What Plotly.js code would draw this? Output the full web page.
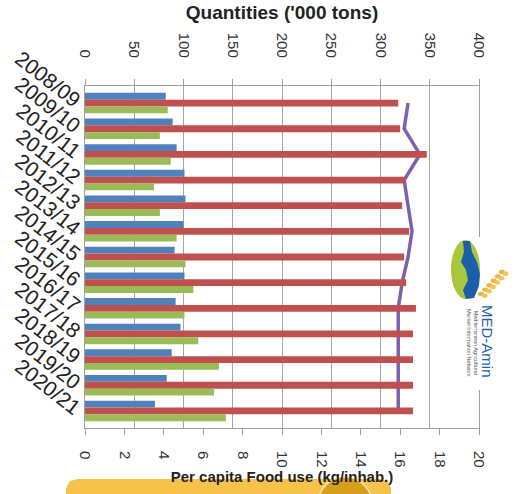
<!DOCTYPE html>
<html>
<head>
<meta charset="utf-8">
<script src="https://cdn.plot.ly/plotly-3.0.1.min.js"></script>
<style>html,body{margin:0;padding:0;background:#fff;}#chart{width:516px;height:494px;}</style>
</head>
<body>
<div id="chart"></div>
<script>
// ---- data ----
const categories = ['2008/09','2009/10','2010/11','2011/12','2012/13','2013/14','2014/15','2015/16','2016/17','2017/18','2018/19','2019/20','2020/21'];
const blueSeries  = [82, 89, 93, 101, 102, 100, 91, 101, 92, 97, 88, 83, 71];
const redSeries   = [318, 320, 347, 325, 322, 329, 324, 326, 336, 333, 333, 333, 333];
const greenSeries = [84, 76, 87, 70, 76, 93, 102, 110, 101, 115, 136, 131, 143];
const perCapita   = [16.4, 16.2, 17.0, 16.2, 16.4, 16.6, 16.4, 16.1, 15.9, 15.9, 15.9, 15.9, 15.9];

// ---- layout helpers (pixel -> paper) ----
const L = 85, R = 479, T = 86, B = 428;
const px = x => (x - L) / (R - L);
const py = y => (B - y) / (B - T);
const path = pts => 'M' + pts.map(p => px(p[0]).toFixed(4) + ',' + py(p[1]).toFixed(4)).join(' L') + ' Z';

const traces = [
  {type:'bar', orientation:'h', name:'Series 1', y:categories, x:blueSeries, xaxis:'x2', yaxis:'y', marker:{color:'#4f81bd'}},
  {type:'bar', orientation:'h', name:'Series 2', y:categories, x:redSeries, xaxis:'x2', yaxis:'y', marker:{color:'#c0504d'}},
  {type:'bar', orientation:'h', name:'Series 3', y:categories, x:greenSeries, xaxis:'x2', yaxis:'y', marker:{color:'#9bbb59'}},
  {type:'scatter', mode:'lines', name:'Per capita Food use', y:categories, x:perCapita, xaxis:'x', yaxis:'y', line:{color:'#7f5fb0', width:3.5}}
];

const wheat = [];
for (let i = 0; i < 6; i++) {
  const cx = 481 + i * 4.2, cy = 294 - i * 4.4;
  wheat.push({type:'circle', xref:'paper', yref:'paper', layer:'above', x0:px(cx-3), x1:px(cx+3), y0:py(cy+2.2), y1:py(cy-2.2), fillcolor:'#f2b43a', line:{width:0}});
  wheat.push({type:'circle', xref:'paper', yref:'paper', layer:'above', x0:px(cx+1), x1:px(cx+6.5), y0:py(cy+4), y1:py(cy-0.5), fillcolor:'#f5c45a', line:{width:0}});
}

const shapes = [
  // bottom decoration
  {type:'path', xref:'paper', yref:'paper', layer:'below', path:path([[66,500],[66,488],[70,481],[78,479],[380,479],[388,481],[391,488],[391,500]]), fillcolor:'#f6c24a', line:{width:0}},
  {type:'circle', xref:'paper', yref:'paper', layer:'below', x0:px(318), x1:px(372), y0:py(531), y1:py(477), fillcolor:'#d79e1c', line:{color:'#fbe7b0', width:1.5}},
  // logo background
  {type:'rect', xref:'paper', yref:'paper', layer:'above', x0:px(447), x1:px(514), y0:py(390), y1:py(237), fillcolor:'#ffffff', line:{width:0}},
  {type:'circle', xref:'paper', yref:'paper', layer:'above', x0:px(451), x1:px(480), y0:py(299), y1:py(240), fillcolor:'#a9c73c', line:{width:0}},
  {type:'path', xref:'paper', yref:'paper', layer:'above', path:path([[463,241],[470,241],[472,252],[477,262],[480,274],[479,286],[474,298],[466,299],[463,290],[468,280],[466,270],[461,262],[464,252]]), fillcolor:'#1d5ea8', line:{width:0}},
  ...wheat
];

const annotations = [
  {xref:'paper', yref:'paper', x:px(488), y:py(342), xanchor:'center', yanchor:'middle', text:'MED-Amin', textangle:90, showarrow:false, font:{family:'Liberation Sans', size:15, color:'#1f63b0'}},
  {xref:'paper', yref:'paper', x:px(473), y:py(343), xanchor:'center', yanchor:'middle', text:'Mediterranean Agricultural<br>Market Information Network', textangle:90, showarrow:false, font:{family:'Liberation Sans', size:5.5, color:'#555'}}
];

const layout = {
  width:516, height:494,
  margin:{l:L, r:516-R, t:T, b:494-B, pad:0},
  paper_bgcolor:'#fff', plot_bgcolor:'#fff',
  showlegend:false,
  barmode:'group', bargap:0.2, bargroupgap:0,
  font:{family:'Liberation Sans', color:'#222'},
  xaxis:{
    range:[0,20], dtick:2, tick0:0, side:'bottom',
    showgrid:false, zeroline:false, showline:true, linecolor:'#a0a0a0', linewidth:1,
    ticks:'outside', ticklen:6, tickcolor:'#a0a0a0', tickangle:90, ticklabelstandoff:13,
    tickfont:{size:15, color:'#333'},
    title:{text:'Per capita Food use (kg/inhab.)', font:{size:15, color:'#222', family:'Liberation Sans', weight:'bold'}, standoff:0}
  },
  xaxis2:{
    range:[0,400], dtick:50, tick0:0, side:'top', overlaying:'x', anchor:'y',
    showgrid:true, gridcolor:'#a6a6a6', gridwidth:1, zeroline:false, showline:true, linecolor:'#a0a0a0', linewidth:1,
    ticks:'outside', ticklen:6, tickcolor:'#a0a0a0', tickangle:90, ticklabelstandoff:16,
    tickfont:{size:15, color:'#333'},
    title:{text:"Quantities ('000 tons)", font:{size:19, color:'#222', family:'Liberation Sans', weight:'bold'}, standoff:8}
  },
  yaxis:{
    type:'category', autorange:'reversed', tickmode:'linear', dtick:1, tick0:0,
    showgrid:false, zeroline:false, showline:true, mirror:true, linecolor:'#a0a0a0', linewidth:1,
    ticks:'', tickangle:38, tickfont:{size:21, color:'#222'}
  },
  shapes:shapes,
  annotations:annotations
};

Plotly.newPlot('chart', traces, layout, {displayModeBar:false, staticPlot:true});
</script>
</body>
</html>
